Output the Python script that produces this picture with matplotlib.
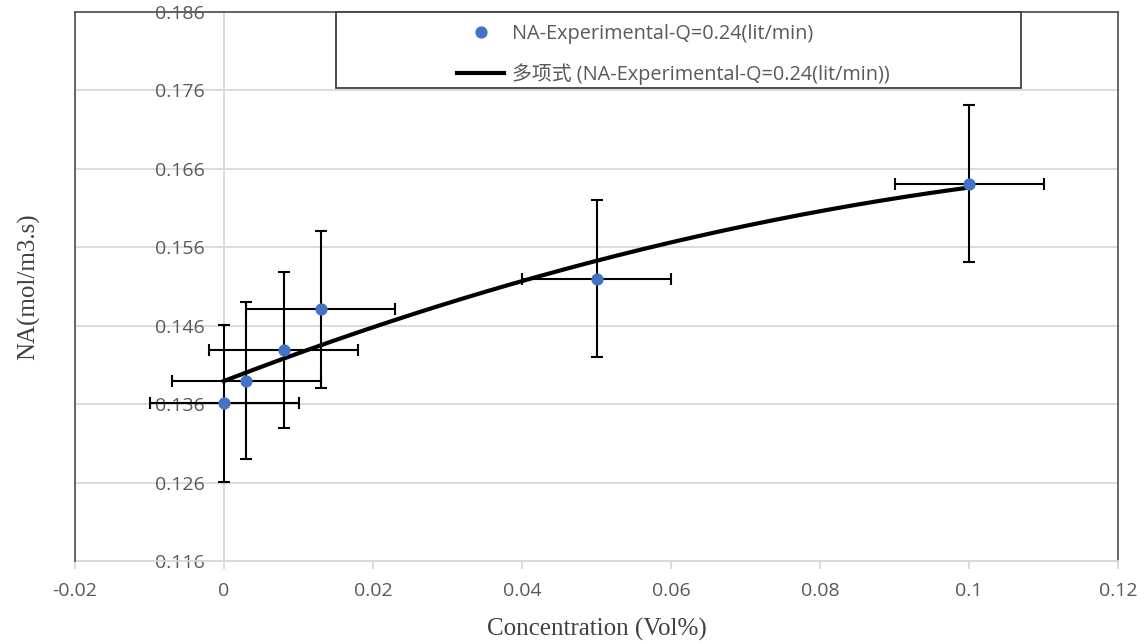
import numpy as np
import matplotlib as mpl
mpl.use('Agg')
import matplotlib.pyplot as plt

# data
conc = [0.0, 0.003, 0.008, 0.013, 0.05, 0.1]
na = [0.1361, 0.1390, 0.1429, 0.1481, 0.1520, 0.1641]
x_err = [0.01, 0.01, 0.01, 0.01, 0.01, 0.01]
y_err = [0.01, 0.01, 0.01, 0.01, 0.01, 0.01]
x_ticks = [-0.02, 0, 0.02, 0.04, 0.06, 0.08, 0.1, 0.12]
x_ticklabels = ['-0.02', '0', '0.02', '0.04', '0.06', '0.08', '0.1', '0.12']
y_ticks = [0.116, 0.126, 0.136, 0.146, 0.156, 0.166, 0.176, 0.186]

dark = '#595959'
light = '#d9d9d9'
tickfont = 'Open Sans'
legfont = ['Open Sans', 'Noto Sans CJK SC']

fig = plt.figure(figsize=(11.44, 6.43), dpi=100)
ax = fig.add_axes([75/1144, 1-561/643, 1043/1144, 549/643])
ax.set_xlim(-0.02, 0.12)
ax.set_ylim(0.116, 0.186)

# grid
for yv in y_ticks:
    ax.axhline(yv, color=light, lw=1.3, zorder=0)

# spines
ax.spines['left'].set_position(('data', 0))
ax.spines['left'].set_color(light)
ax.spines['left'].set_linewidth(1.3)
ax.spines['left'].set_zorder(1)
ax.spines['bottom'].set_color(light)
ax.spines['bottom'].set_linewidth(1.3)
ax.spines['top'].set_color(dark)
ax.spines['right'].set_color(dark)
ax.spines['top'].set_linewidth(1.3)
ax.spines['right'].set_linewidth(1.3)
ax.plot([0, 0], [0, 1], transform=ax.transAxes, color=dark, lw=1.3, clip_on=False, zorder=5)

ax.set_xticks(x_ticks)
ax.set_xticklabels(x_ticklabels)
ax.set_yticks(y_ticks)
ax.set_yticklabels(['%.3f' % v for v in y_ticks])
ax.tick_params(axis='both', direction='out', length=6, width=1.3, color=light,
               labelcolor=dark, labelsize=14)
ax.tick_params(axis='x', pad=9)
ax.tick_params(axis='y', pad=8)
for lb in ax.get_xticklabels() + ax.get_yticklabels():
    lb.set_family(tickfont)

# error bars
ax.errorbar(conc, na, xerr=x_err, yerr=y_err, fmt='none', ecolor='black',
            elinewidth=1.5, capsize=4.5, capthick=1.5, zorder=3)

# polynomial trendline (order 2)
coef = np.polyfit(conc, na, 2)
xs = np.linspace(min(conc), max(conc), 200)
line, = ax.plot(xs, np.polyval(coef, xs), color='black', lw=3, zorder=3.5,
                label='多项式 (NA-Experimental-Q=0.24(lit/min))')
pts, = ax.plot(conc, na, 'o', color='#4472C4', ms=7.8, zorder=4,
               label='NA-Experimental-Q=0.24(lit/min)')

# legend box
ax.add_patch(plt.Rectangle((0.25, 0.8616), 0.657, 0.1384, transform=ax.transAxes,
                           facecolor='white', edgecolor='#404040', lw=1.3, zorder=6,
                           clip_on=False))
leg = ax.legend([pts, line], [pts.get_label(), line.get_label()],
                loc='center left', bbox_to_anchor=(0.366, 0.923), frameon=False,
                prop={'family': legfont, 'size': 14.3}, handlelength=2.4,
                handletextpad=0.4, labelspacing=0.95, borderpad=0, borderaxespad=0)
leg.set_zorder(7)
for t in leg.get_texts():
    t.set_color(dark)

ax.set_xlabel('Concentration (Vol%)', family='Liberation Serif', fontsize=18, color='#404040')
ax.set_ylabel('NA(mol/m3.s)', family='Liberation Serif', fontsize=18, color='#404040')
ax.xaxis.set_label_coords(0.5, -0.103)
ax.yaxis.set_label_coords(-0.033, 0.5)

fig.savefig('out.png', dpi=100)
